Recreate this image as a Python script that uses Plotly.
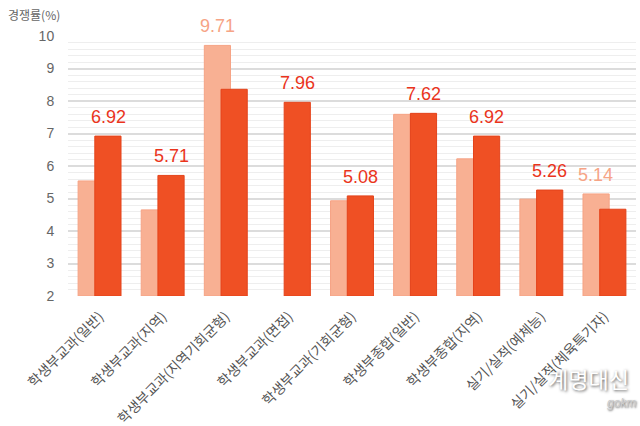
import plotly.graph_objects as go

categories = ["학생부교과(일반)", "학생부교과(지역)", "학생부교과(지역기회균형)", "학생부교과(면접)",
              "학생부교과(기회균형)", "학생부종합(일반)", "학생부종합(지역)", "실기/실적(예체능)",
              "실기/실적(체육특기자)"]
prev_values = [5.54, 4.65, 9.71, None, 4.93, 7.59, 6.22, 4.98, 5.14]
curr_values = [6.92, 5.71, 8.36, 7.96, 5.08, 7.62, 6.92, 5.26, 4.67]
y_ticks = [2, 3, 4, 5, 6, 7, 8, 9, 10]
y_title = "경쟁률(%)"
watermark = "계명대신"
watermark_sub = "gokm"

LIGHT = "#F8B093"
DARK = "#EF5024"
LIGHT_TXT = "#F6A486"
DARK_TXT = "#EA341C"
FONT = "Liberation Sans, Noto Sans CJK KR, sans-serif"
KFONT = "Noto Sans CJK KR, Liberation Sans, sans-serif"

fig = go.Figure()
fig.add_trace(go.Bar(x=categories, y=[v - 2 if v is not None else None for v in prev_values], base=2,
                     offset=-0.34, width=0.415,
                     marker=dict(color=LIGHT, line=dict(color="#F6A385", width=1)),
                     hoverinfo="skip", showlegend=False))
fig.add_trace(go.Bar(x=categories, y=[v - 2 for v in curr_values], base=2,
                     offset=-0.075, width=0.415,
                     marker=dict(color=DARK, line=dict(color="#E4431B", width=1)),
                     hoverinfo="skip", showlegend=False))

annotations = []
for c, p, d in zip(categories, prev_values, curr_values):
    if p is not None and p > d:
        val, shift, col = p, -8.5, LIGHT_TXT
    else:
        val, shift, col = d, 8.5, DARK_TXT
    annotations.append(dict(x=c, y=val, xref="x", yref="y", text=f"{val:.2f}", showarrow=False,
                            xshift=shift, yshift=7, yanchor="bottom",
                            font=dict(family=FONT, size=18, color=col)))

annotations.append(dict(x=6, y=14, xref="paper", yref="paper", text=y_title, showarrow=False,
                        xanchor="left", yanchor="middle",
                        font=dict(family=KFONT, size=12, color="#666666")))
annotations.append(dict(x=546, y=378, xref="paper", yref="paper", text=watermark, showarrow=False,
                        xanchor="left", yanchor="middle",
                        font=dict(family=KFONT, size=22, color="#ffffff",
                                  shadow="1px 1px 3px #555555")))
annotations.append(dict(x=605, y=403, xref="paper", yref="paper", text=f"<i>{watermark_sub}</i>", showarrow=False,
                        xanchor="left", yanchor="middle",
                        font=dict(family=FONT, size=12, color="#cccccc",
                                  shadow="1px 1px 2px #666666")))

W, H = 640, 426
ml, mr, mt, mb = 68, 4, 36, 130
pw, ph = W - ml - mr, H - mt - mb
for a in annotations[-3:]:
    a["x"] = (a["x"] - ml) / pw
    a["y"] = 1 - (a["y"] - mt) / ph

fig.update_layout(
    width=W, height=H,
    margin=dict(l=ml, r=mr, t=mt, b=mb, pad=0, autoexpand=False),
    paper_bgcolor="white", plot_bgcolor="white",
    barmode="overlay",
    annotations=annotations,
    font=dict(family=KFONT),
)
fig.update_xaxes(type="category", tickangle=-45, showgrid=False, zeroline=False, showline=False,
                 automargin=False,
                 ticks="outside", ticklen=6, tickcolor="rgba(0,0,0,0)",
                 tickfont=dict(family=KFONT, size=14, color="#555555"), range=[-0.5, 8.5])
fig.update_yaxes(range=[2, 10], tickvals=y_ticks, showgrid=True, gridcolor="#DCDCDC", gridwidth=1.5,
                 minor=dict(dtick=0.2, showgrid=True, gridcolor="#EEEEEE", gridwidth=1),
                 automargin=False,
                 zeroline=False, showline=False, ticks="outside", ticklen=10, tickcolor="rgba(0,0,0,0)",
                 tickfont=dict(family=FONT, size=14, color="#666666"))

fig.write_html("out.html")
